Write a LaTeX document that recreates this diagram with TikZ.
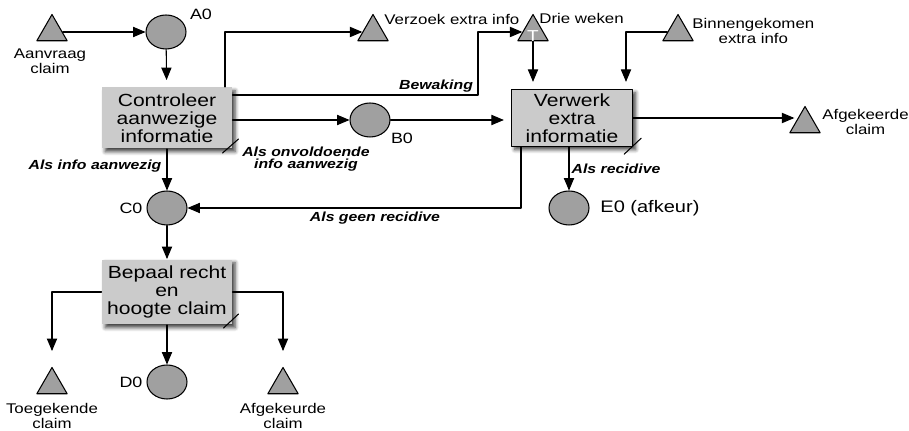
\documentclass[tikz,border=0pt]{standalone}
\usepackage{fontspec}
\setmainfont[FakeStretch=1.2]{Liberation Sans}
\usetikzlibrary{arrows,shapes.geometric,shadows.blur}
\definecolor{stategray}{HTML}{A0A0A0}
\definecolor{boxgray}{HTML}{CBCBCB}

\begin{document}
\begin{tikzpicture}[line cap=round,line join=round,>=triangle 45,x=0.02cm,y=-0.02cm,line width=0.6pt,
  state/.style={ellipse,draw,fill=stategray,minimum width=0.8cm,minimum height=0.68cm,inner sep=0pt},
  event/.style={regular polygon,regular polygon sides=3,draw,fill=stategray,minimum size=0.7cm,inner sep=0pt},
  task/.style={fill=boxgray,align=center,inner sep=0pt,font=\fontsize{10}{10.2}\selectfont,
    blur shadow={shadow xshift=1.8pt,shadow yshift=-1.8pt,shadow blur steps=5,shadow opacity=75}},
  small/.style={align=center,font=\fontsize{8}{6.8}\selectfont},
  ident/.style={font=\fontsize{8.5}{9}\selectfont},
  cond/.style={align=center,font=\fontsize{7.5}{6.8}\selectfont\bfseries\itshape}]

\useasboundingbox (0,0) rectangle (909,431);

% gebeurtenissen en toestanden
\node[event] (aanvraag) at (52,32) {};
\node[small] (aanvraaglbl) at (50,61) {Aanvraag\\claim};
\node[state] (a0) at (166,32) {};
\node[ident] (a0lbl) at (201,14) {A0};
\node[event] (verzoek) at (373,32) {};
\node[ident,anchor=west,font=\fontsize{8}{9}\selectfont] (verzoeklbl) at (378,19) {Verzoek extra info};
\node[event] (drie) at (533,32) {};
\node[text=white,font=\fontsize{9}{9}\selectfont] (drieT) at (533,36) {T};
\node[ident,anchor=west,font=\fontsize{8}{9}\selectfont] (drielbl) at (533,18) {Drie weken};
\node[event] (binnen) at (678,32) {};
\node[small,anchor=west] (binnenlbl) at (686,31) {Binnengekomen\\extra info};
\node[state] (b0) at (370,120) {};
\node[ident] (b0lbl) at (402,138) {B0};
\node[event] (afgekeerd) at (805,124) {};
\node[small,anchor=west] (afgekeerdlbl) at (816,122) {Afgekeerde\\claim};
\node[state] (e0) at (569,208) {};
\node[anchor=west,font=\fontsize{9.5}{10}\selectfont] (e0lbl) at (594,208) {E0 (afkeur)};
\node[state] (c0) at (167,208) {};
\node[ident] (c0lbl) at (131,208) {C0};
\node[state] (d0) at (167,382) {};
\node[ident] (d0lbl) at (131,382) {D0};
\node[event] (toegekend) at (52,385) {};
\node[small] (toegekendlbl) at (52,416) {Toegekende\\claim};
\node[event] (afgekeurd) at (283,385) {};
\node[small] (afgekeurdlbl) at (283,416) {Afgekeurde\\claim};

% taken
\node[task,minimum width=2.6cm,minimum height=1.22cm] (controleer) at (167,118) {Controleer\\aanwezige\\informatie};
\node[task,draw,line width=0.8pt,minimum width=2.42cm,minimum height=1.14cm] (verwerk) at (572,118) {Verwerk\\extra\\informatie};
\node[task,minimum width=2.6cm,minimum height=1.3cm] (bepaal) at (167,292) {Bepaal recht\\en\\hoogte claim};

\draw (controleer.south east) ++(-10,4) -- ++(16,-14);
\draw (verwerk.south east) ++(-9,7) -- ++(17,-16);
\draw (bepaal.south east) ++(-9,3) -- ++(15,-14);

% verbindingen
\coordinate (bew) at (478,95);
\coordinate (gr) at (521,0);
\coordinate (bin) at (626,0);
\coordinate (vz) at (225,0);

\draw[->] (aanvraag) -- (a0);
\draw[->,shorten >=0.14cm] (a0) -- (controleer);
\draw[->] (controleer.north -| vz) |- (verzoek);
\draw[->] (controleer.east |- bew) -- (bew) |- (drie);
\node[cond] (bewlbl) at (436,86) {Bewaking};
\draw[->] (controleer.east |- b0) -- (b0);
\draw[->,shorten >=0.14cm] (b0) -- (verwerk.west |- b0);
\draw[->,shorten >=0.14cm] (drie) -- (verwerk.north -| drie);
\draw[->,shorten >=0.14cm] (binnen) -| (verwerk.north -| bin);
\draw[->] (verwerk.east) -- (verwerk.east -| afgekeerd.west);
\draw[->] (verwerk.south -| e0) -- (e0);
\node[cond] (recidivelbl) at (616,169) {Als recidive};
\draw[->] (verwerk.south -| gr) |- (c0);
\node[cond] (geenlbl) at (375,218) {Als geen recidive};
\draw[->] (controleer) -- (c0);
\node[cond] (infolbl) at (95,166) {Als info aanwezig};
\node[cond] (onvlbl) at (306,159) {Als onvoldoende\\info aanwezig};
\draw[->] (c0) -- (bepaal);
\draw[->,shorten >=0.31cm] (bepaal.west) -| (toegekend);
\draw[->] (bepaal) -- (d0);
\draw[->,shorten >=0.31cm] (bepaal.east) -| (afgekeurd);

\end{tikzpicture}
\end{document}
